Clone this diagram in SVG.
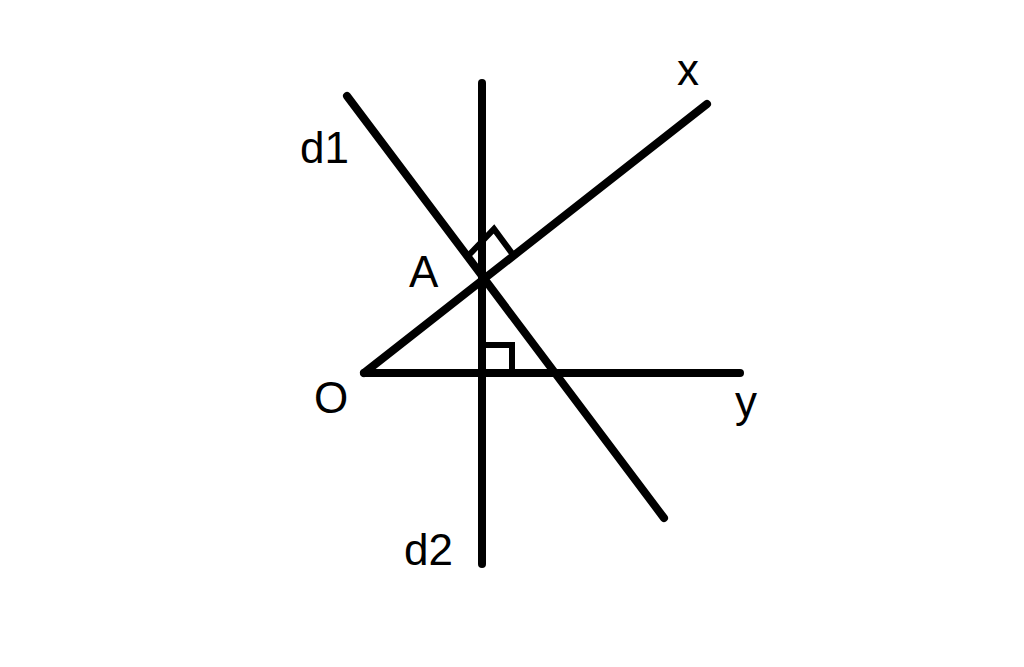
<svg xmlns="http://www.w3.org/2000/svg" width="1024" height="667" viewBox="0 0 1024 667">
<style>
.ln{stroke:#000;stroke-width:8;stroke-linecap:round;fill:none}
.mk{stroke:#000;stroke-width:6;fill:none;stroke-linejoin:miter}
.lb{font-family:"Liberation Sans",Arial,sans-serif;font-size:44px;fill:#000}
</style>
<rect width="1024" height="667" fill="#fff"/>
<g id="connectors">
<line id="d2" class="ln" x1="482" y1="83" x2="482" y2="564"/>
<line id="Oy" class="ln" x1="364" y1="373" x2="740" y2="373"/>
<line id="Ox" class="ln" x1="364" y1="373" x2="707" y2="104"/>
<line id="d1" class="ln" x1="347" y1="96" x2="664" y2="518"/>
<polyline id="rightA" class="mk" points="467,257 494,229 514,256"/>
<polyline id="rightH" class="mk" points="482,345 512,345 512,373"/>
</g>
<g id="label-x"><text class="lb" x="677" y="85">x</text></g>
<g id="label-d1"><text class="lb" x="300" y="163">d1</text></g>
<g id="label-A"><text class="lb" x="409" y="287">A</text></g>
<g id="label-O"><text class="lb" x="314" y="413">O</text></g>
<g id="label-y"><text class="lb" x="735" y="417">y</text></g>
<g id="label-d2"><text class="lb" x="404" y="565">d2</text></g>
</svg>
